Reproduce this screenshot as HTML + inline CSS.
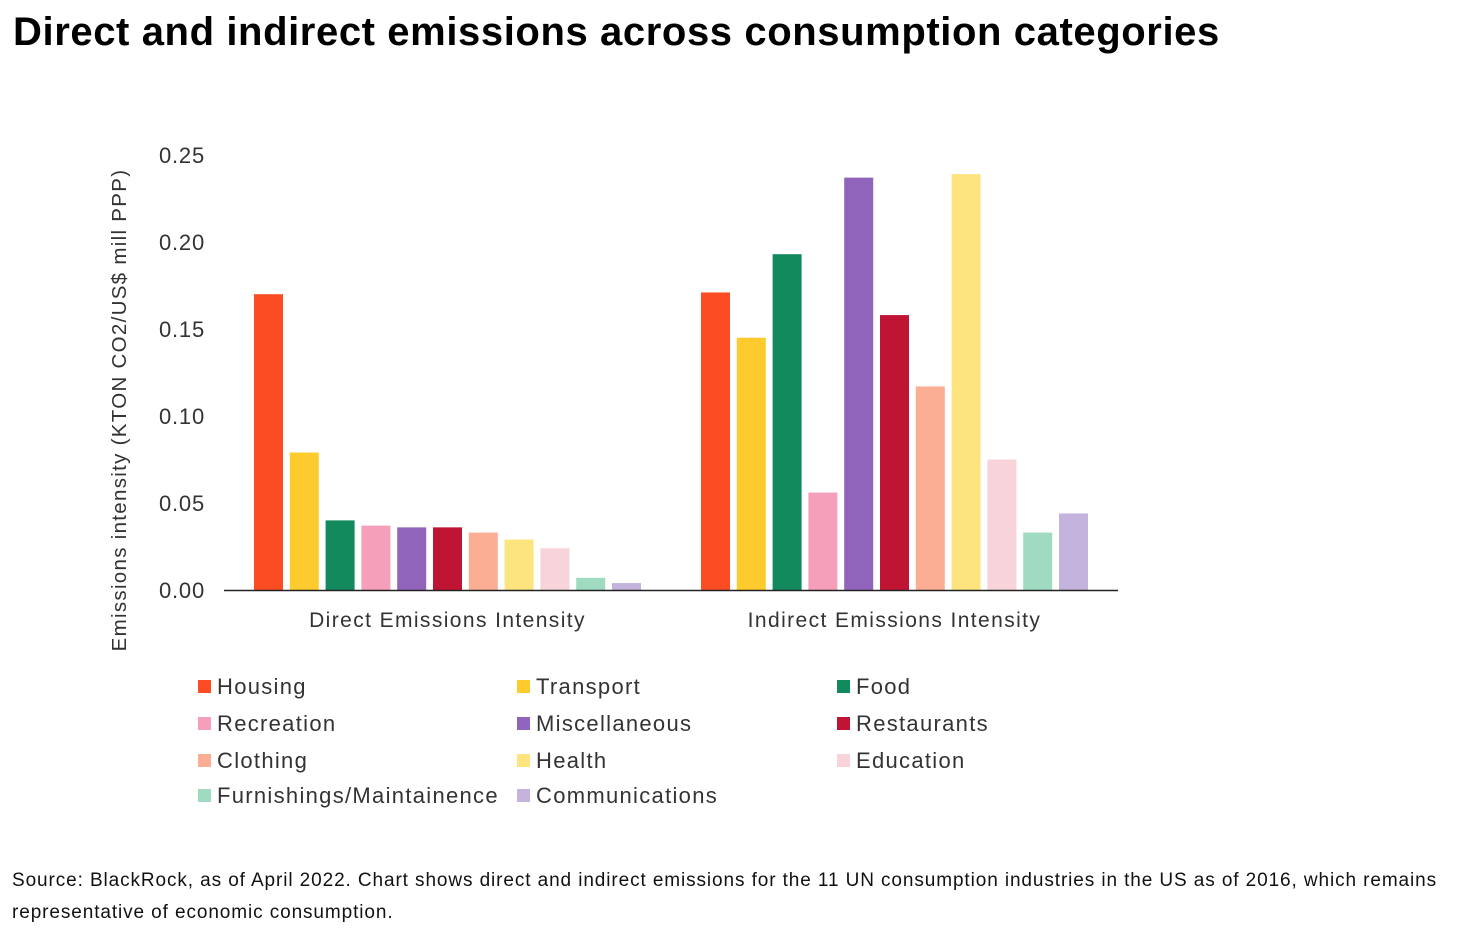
<!DOCTYPE html>
<html><head><meta charset="utf-8">
<style>
body{margin:0;background:#fff;width:1464px;height:940px;overflow:hidden;font-family:"Liberation Sans",sans-serif;}
h1{position:absolute;left:13px;top:10px;margin:0;font-size:40px;font-weight:bold;color:#000;letter-spacing:0.6px;white-space:nowrap;}
.src{position:absolute;left:12px;top:865px;font-size:19px;line-height:32px;color:#111;width:1450px;letter-spacing:0.9px;}
svg{position:absolute;left:0;top:0;}
</style></head><body>
<h1>Direct and indirect emissions across consumption categories</h1>
<svg id="chart" width="1464" height="940"></svg>
<div class="src">Source: BlackRock, as of April 2022. Chart shows direct and indirect emissions for the 11 UN consumption industries in the US as of 2016, which remains representative of economic consumption.</div>
<script>
const groups=["Direct Emissions Intensity","Indirect Emissions Intensity"];
const series=["Housing","Transport","Food","Recreation","Miscellaneous","Restaurants","Clothing","Health","Education","Furnishings/Maintainence","Communications"];
const colors=["#fc4c24","#fdcb2e","#138a5e","#f59fbb","#9064bb","#c01434","#fbae93","#fde47f","#f8d3da","#9edbc0","#c3b3dd"];
const directValues=[0.170,0.079,0.040,0.037,0.036,0.036,0.033,0.029,0.024,0.007,0.004];
const indirectValues=[0.171,0.145,0.193,0.056,0.237,0.158,0.117,0.239,0.075,0.033,0.044];
const ticks=[0,0.05,0.10,0.15,0.20,0.25];
const tickLabels=["0.00","0.05","0.10","0.15","0.20","0.25"];
const NS="http://www.w3.org/2000/svg";
const svg=document.getElementById('chart');
const x0=224,x1=1118,y0=590,yTop=155,ymax=0.25;
const y=v=>y0-(v/ymax)*(y0-yTop);
const band=(x1-x0)/groups.length;
const step=35.8,bw=29;
function el(t,a){const e=document.createElementNS(NS,t);for(const k in a)e.setAttribute(k,a[k]);svg.appendChild(e);return e;}
ticks.forEach((t,i)=>{
 const e=el('text',{x:205,y:y(t)+8,'text-anchor':'end','font-size':22,fill:'#333','letter-spacing':0.8});
 e.textContent=tickLabels[i];
 
 
});
const yt=el('text',{x:0,y:0,transform:'translate(126,410) rotate(-90)','text-anchor':'middle','font-size':20.5,fill:'#333','letter-spacing':1.3});
yt.textContent="Emissions intensity (KTON CO2/US$ mill PPP)";


[directValues,indirectValues].forEach((vals,g)=>{
 const c=x0+band*(g+0.5);
 const start=c-(step*(series.length-1)+bw)/2;
 vals.forEach((v,i)=>{
  const r=el('rect',{x:start+i*step,y:y(v),width:bw,height:y0-y(v),fill:colors[i]});
  
  
 });
 const l=el('text',{x:c,y:627,'text-anchor':'middle','font-size':21,fill:'#333','letter-spacing':1.4});
 l.textContent=groups[g];
 
 
});
const ax=el('line',{x1:x0,x2:x1,y1:y0+0.5,y2:y0+0.5,stroke:'#222','stroke-width':1.5});


const lx=[198,517,837],ly=[686,723,760,795];
series.forEach((s,i)=>{
 const cx=lx[i%3],cy=ly[Math.floor(i/3)];
 const r=el('rect',{x:cx,y:cy-6,width:13,height:13,fill:colors[i]});
 
 
 const t=el('text',{x:cx+19,y:cy+8,'font-size':22,fill:'#333','letter-spacing':1.3});
 t.textContent=s;
 
 
});
</script>
</body></html>
